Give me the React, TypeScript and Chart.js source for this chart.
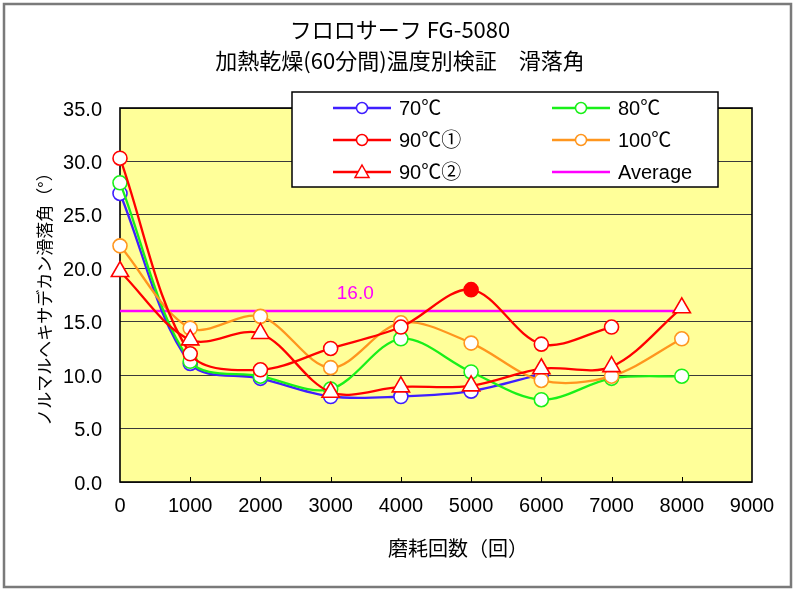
import React, { useEffect, useRef } from "react";
import { Chart, registerables } from "chart.js";

Chart.register(...registerables);

// ---------- data ----------
const TITLE_LINES = ["フロロサーフ FG-5080", "加熱乾燥(60分間)温度別検証　滑落角"];
const X_TITLE = "磨耗回数（回）";
const Y_TITLE = "ノルマルヘキサデカン滑落角（°）";

const X_VALUES = [0, 1000, 2000, 3000, 4000, 5000, 6000, 7000, 8000];
const S_70 = [27.0, 11.1, 9.7, 8.0, 8.0, 8.5, 10.1];
const S_80 = [28.0, 11.3, 9.9, 8.7, 13.4, 10.3, 7.7, 9.7, 9.9];
const S_90A = [30.3, 12.0, 10.5, 12.5, 14.5, 18.0, 12.9, 14.5];
const S_100 = [22.1, 14.4, 15.5, 10.7, 14.9, 13.0, 9.5, 9.9, 13.4];
const S_90B = [19.7, 13.3, 13.9, 8.4, 8.9, 9.0, 10.6, 10.8, 16.3];
const AVERAGE = 16.0;
const AVERAGE_LABEL = "16.0";
const AVERAGE_LABEL_X = 3350;
const HIGHLIGHT_90A = 5;

const LABELS = ["70℃", "80℃", "90℃①", "100℃", "90℃②", "Average"];

const X_MIN = 0, X_MAX = 9000, X_STEP = 1000;
const Y_MIN = 0, Y_MAX = 35, Y_STEP = 5;

// ---------- styles ----------
const C_BLUE = "#3F1FFF";
const C_GREEN = "#19F019";
const C_RED = "#FF0000";
const C_ORANGE = "#FF961E";
const C_MAGENTA = "#FF00FF";
const PLOT_BG = "#FFFF99";
const LATIN = "'Liberation Sans', Arial, 'Noto Sans CJK JP', sans-serif";
const CJK = "'Noto Sans CJK JP', 'Noto Sans', sans-serif";

const pts = (arr: number[]) => arr.map((y, i) => ({ x: X_VALUES[i], y }));

export default function App() {
  const ref = useRef<HTMLCanvasElement | null>(null);

  useEffect(() => {
    document.body.style.margin = "0";
    const canvas = ref.current;
    if (!canvas) return;

    const circleSet = (label: string, data: number[], color: string, order: number, fills?: string[]) => ({
      label,
      data: pts(data),
      borderColor: color,
      borderWidth: 2.3,
      pointStyle: "circle",
      pointRadius: 7,
      pointBorderWidth: 1.6,
      pointBorderColor: color,
      pointBackgroundColor: fills || "#FFFFFF",
      tension: 0.33,
      clip: false,
      order,
    });

    const fills90A = S_90A.map((_, i) => (i === HIGHLIGHT_90A ? C_RED : "#FFFFFF"));

    const datasets: any[] = [
      {
        label: LABELS[4],
        data: pts(S_90B),
        borderColor: C_RED,
        borderWidth: 2.3,
        pointStyle: "triangle",
        pointRadius: 10,
        pointBorderWidth: 1.6,
        pointBorderColor: C_RED,
        pointBackgroundColor: "#FFFFFF",
        tension: 0.33,
        clip: false,
        order: 0,
      },
      circleSet(LABELS[2], S_90A, C_RED, 1, fills90A),
      circleSet(LABELS[3], S_100, C_ORANGE, 2),
      circleSet(LABELS[1], S_80, C_GREEN, 3),
      circleSet(LABELS[0], S_70, C_BLUE, 4),
      {
        label: LABELS[5],
        data: [
          { x: X_VALUES[0], y: AVERAGE },
          { x: X_VALUES[X_VALUES.length - 1], y: AVERAGE },
        ],
        borderColor: C_MAGENTA,
        borderWidth: 2.5,
        pointRadius: 0,
        tension: 0,
        order: 5,
      },
    ];

    const legendItems = [
      { text: LABELS[0], color: C_BLUE, marker: "circle" },
      { text: LABELS[1], color: C_GREEN, marker: "circle" },
      { text: LABELS[2], color: C_RED, marker: "circle" },
      { text: LABELS[3], color: C_ORANGE, marker: "circle" },
      { text: LABELS[4], color: C_RED, marker: "triangle" },
      { text: LABELS[5], color: C_MAGENTA, marker: "none" },
    ];

    const decor = {
      id: "decor",
      beforeDraw(chart: any) {
        const { ctx, chartArea: a, width, height } = chart;
        ctx.save();
        ctx.fillStyle = "#FFFFFF";
        ctx.fillRect(0, 0, width, height);
        ctx.fillStyle = PLOT_BG;
        ctx.fillRect(a.left, a.top, a.right - a.left, a.bottom - a.top);
        ctx.strokeStyle = "#7A7A7A";
        ctx.lineWidth = 2.5;
        ctx.strokeRect(4, 4, 787, 583);
        ctx.restore();
      },
      beforeDatasetsDraw(chart: any) {
        const { ctx, chartArea: a, scales } = chart;
        ctx.save();
        ctx.strokeStyle = "#000000";
        ctx.lineWidth = 1.6;
        ctx.strokeRect(a.left, a.top, a.right - a.left, a.bottom - a.top);
        ctx.lineWidth = 1;
        ctx.beginPath();
        for (let v = X_MIN + X_STEP; v < X_MAX; v += X_STEP) {
          const px = Math.round(scales.x.getPixelForValue(v)) + 0.5;
          ctx.moveTo(px, a.bottom);
          ctx.lineTo(px, a.bottom - 5);
        }
        ctx.stroke();
        ctx.restore();
      },
      afterDatasetsDraw(chart: any) {
        const { ctx, scales } = chart;
        ctx.save();
        // average label
        ctx.fillStyle = C_MAGENTA;
        ctx.font = `19px ${LATIN}`;
        ctx.textAlign = "center";
        ctx.textBaseline = "middle";
        ctx.fillText(AVERAGE_LABEL, scales.x.getPixelForValue(AVERAGE_LABEL_X), scales.y.getPixelForValue(AVERAGE) - 17);

        // legend
        const L = 292, T = 92, R = 718, B = 187;
        ctx.fillStyle = "#FFFFFF";
        ctx.fillRect(L, T, R - L, B - T);
        ctx.strokeStyle = "#000000";
        ctx.lineWidth = 1.5;
        ctx.strokeRect(L, T, R - L, B - T);
        const colX = [333, 552];
        const rowY = [108, 140, 172];
        legendItems.forEach((it, i) => {
          const x0 = colX[i % 2];
          const y = rowY[Math.floor(i / 2)];
          ctx.strokeStyle = it.color;
          ctx.lineWidth = 2.5;
          ctx.beginPath();
          ctx.moveTo(x0, y);
          ctx.lineTo(x0 + 58, y);
          ctx.stroke();
          const mx = x0 + 29;
          ctx.lineWidth = 1.5;
          ctx.fillStyle = "#FFFFFF";
          if (it.marker === "circle") {
            ctx.beginPath();
            ctx.arc(mx, y, 5.5, 0, Math.PI * 2);
            ctx.fill();
            ctx.stroke();
          } else if (it.marker === "triangle") {
            ctx.beginPath();
            ctx.moveTo(mx, y - 7);
            ctx.lineTo(mx + 7, y + 5.5);
            ctx.lineTo(mx - 7, y + 5.5);
            ctx.closePath();
            ctx.fill();
            ctx.stroke();
          }
          ctx.fillStyle = "#000000";
          ctx.font = `20px ${LATIN}`;
          ctx.textAlign = "left";
          ctx.textBaseline = "middle";
          ctx.fillText(it.text, x0 + 66, y + 1);
        });

        // titles
        ctx.fillStyle = "#000000";
        ctx.textAlign = "center";
        ctx.textBaseline = "middle";
        ctx.font = `22px ${CJK}`;
        ctx.fillText(TITLE_LINES[0], 400, 30);
        ctx.fillText(TITLE_LINES[1], 400, 61);

        // x title
        ctx.font = `20px ${CJK}`;
        ctx.fillText(X_TITLE, 458, 548);

        // y title
        ctx.translate(45, 295);
        ctx.rotate(-Math.PI / 2);
        ctx.font = `17px ${CJK}`;
        ctx.fillText(Y_TITLE, 0, 0);
        ctx.restore();
      },
    };

    const chart = new Chart(canvas, {
      type: "line",
      data: { datasets },
      options: {
        animation: false,
        responsive: false,
        devicePixelRatio: 1,
        layout: { padding: { left: 0, right: 48, top: 108, bottom: 0 } },
        plugins: {
          legend: { display: false },
          tooltip: { enabled: false },
          title: { display: false },
        },
        scales: {
          x: {
            type: "linear",
            min: X_MIN,
            max: X_MAX,
            grid: { display: false, drawTicks: false },
            border: { display: false },
            ticks: {
              stepSize: X_STEP,
              color: "#000000",
              font: { family: LATIN, size: 20 },
              padding: 12,
              maxRotation: 0,
              autoSkip: false,
              callback: (v: any) => String(v),
            },
            afterFit: (s: any) => {
              s.height = 111;
            },
          },
          y: {
            type: "linear",
            min: Y_MIN,
            max: Y_MAX,
            grid: { color: "#3A3A3A", lineWidth: 1, drawTicks: false },
            border: { display: false },
            ticks: {
              stepSize: Y_STEP,
              color: "#000000",
              font: { family: LATIN, size: 20 },
              padding: 18,
              labelOffset: 2,
              callback: (v: any) => Number(v).toFixed(1),
            },
            afterFit: (s: any) => {
              s.width = 120;
            },
          },
        },
      } as any,
      plugins: [decor],
    });

    return () => chart.destroy();
  }, []);

  return (
    <div style={{ width: 800, height: 593 }}>
      <canvas ref={ref} width={800} height={593} style={{ display: "block" }} />
    </div>
  );
}
